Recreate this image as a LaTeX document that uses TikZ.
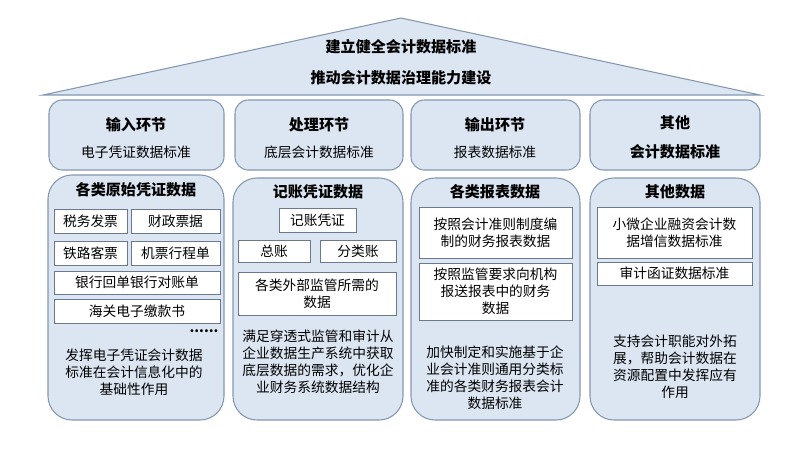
\documentclass[tikz,border=0pt]{standalone}
\usepackage{fontspec}
\setmainfont{Noto Sans CJK SC}
\usetikzlibrary{calc}
\definecolor{paleblue}{HTML}{DCE6F2}
\definecolor{edgeblue}{HTML}{8497B0}
\tikzset{>=latex,
  headbox/.style = {draw = edgeblue, fill = paleblue, rounded corners = 10pt, line width = 0.8pt},
  colbox/.style = {draw = edgeblue, fill = paleblue, rounded corners = 18pt, line width = 0.8pt},
  itembox/.style = {draw = edgeblue!80!black, fill = white, line width = 0.7pt},
  txt/.style = {font = \fontsize{10.3}{12.8}\selectfont, align = center},
  bold/.style = {font = \fontsize{11.3}{15}\selectfont\bfseries, align = center}
}

\begin{document}
\begin{tikzpicture}[x = 0.75pt, y = -0.75pt]
\useasboundingbox (0,0) rectangle (800,450);

% roof
\draw[draw = edgeblue, fill = paleblue, line width = 0.8pt] (43,95) -- (401,18) -- (760,95) -- cycle;
\node[bold] (roofa) at (401,47) {建立健全会计数据标准};
\node[bold] (roofb) at (401,78) {推动会计数据治理能力建设};

% header boxes
\draw[headbox] (49,100) rectangle (224,170);
\node[bold] (ha) at (136,125) {输入环节};
\node[txt] (hasub) at (136,152) {电子凭证数据标准};

\draw[headbox] (235,100) rectangle (403,170);
\node[bold] (hb) at (319,125) {处理环节};
\node[txt] (hbsub) at (319,152) {底层会计数据标准};

\draw[headbox] (411,100) rectangle (580,170);
\node[bold] (hc) at (495,125) {输出环节};
\node[txt] (hcsub) at (495,152) {报表数据标准};

\draw[headbox] (590,100) rectangle (760,170);
\node[bold] (hd) at (675,123) {其他};
\node[bold] (hdsub) at (675,152) {会计数据标准};

% column one
\draw[colbox] (48,175) rectangle (224,420);
\node[bold] (ca) at (136,190) {各类原始凭证数据};
\draw[itembox] (54,209) rectangle (127,233) node[txt, midway] (a1) {税务发票};
\draw[itembox] (131,209) rectangle (220,233) node[txt, midway] (a2) {财政票据};
\draw[itembox] (54,241) rectangle (127,265) node[txt, midway] (a3) {铁路客票};
\draw[itembox] (131,241) rectangle (220,265) node[txt, midway] (a4) {机票行程单};
\draw[itembox] (54,271) rectangle (220,294) node[txt, midway] (a5) {银行回单银行对账单};
\draw[itembox] (54,299) rectangle (220,323) node[txt, midway] (a6) {海关电子缴款书};
\node[txt] (adots) at (204,331) {\textbf{......}};
\node[txt] (atext) at (134,372) {发挥电子凭证会计数据\\标准在会计信息化中的\\基础性作用};

% column two
\draw[colbox] (233,178) rectangle (403,420);
\node[bold] (cb) at (318,192) {记账凭证数据};
\draw[itembox] (279,208) rectangle (356,232) node[txt, midway] (b1) {记账凭证};
\draw[itembox] (238,240) rectangle (310,262) node[txt, midway] (b2) {总账};
\draw[itembox] (320,240) rectangle (396,262) node[txt, midway] (b3) {分类账};
\draw[itembox] (238,272) rectangle (396,315) node[txt, midway] (b4) {各类外部监管所需的\\数据};
\node[txt] (btext) at (318,362) {满足穿透式监管和审计从\\企业数据生产系统中获取\\底层数据的需求，优化企\\业财务系统数据结构};

% column three
\draw[colbox] (411,178) rectangle (580,420);
\node[bold] (cc) at (495,192) {各类报表数据};
\draw[itembox] (419,207) rectangle (572,258) node[txt, midway] (c1) {按照会计准则制度编\\制的财务报表数据};
\draw[itembox] (419,263) rectangle (572,320) node[txt, midway] (c2) {按照监管要求向机构\\报送报表中的财务\\数据};
\node[txt] (ctext) at (495,378) {加快制定和实施基于企\\业会计准则通用分类标\\准的各类财务报表会计\\数据标准};

% column four
\draw[colbox] (590,178) rectangle (760,420);
\node[bold] (cd) at (675,192) {其他数据};
\draw[itembox] (597,207) rectangle (752,258) node[txt, midway] (d1) {小微企业融资会计数\\据增信数据标准};
\draw[itembox] (597,262) rectangle (752,285) node[txt, midway] (d2) {审计函证数据标准};
\node[txt] (dtext) at (675,367) {支持会计职能对外拓\\展，帮助会计数据在\\资源配置中发挥应有\\作用};
\end{tikzpicture}
\end{document}
